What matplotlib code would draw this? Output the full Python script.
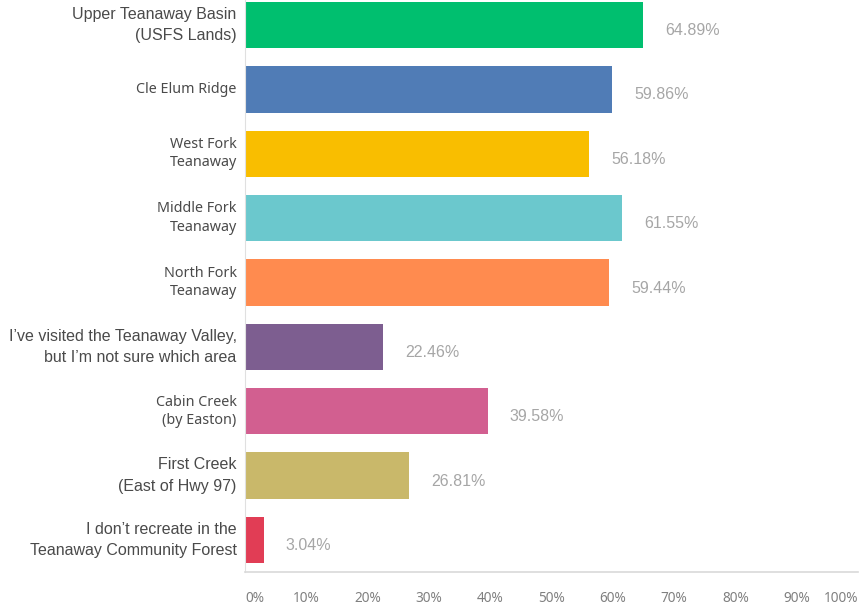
import matplotlib
matplotlib.use("Agg")
import matplotlib.pyplot as plt

categories = [
    "Upper Teanaway Basin\n(USFS Lands)",
    "Cle Elum Ridge",
    "West Fork\nTeanaway",
    "Middle Fork\nTeanaway",
    "North Fork\nTeanaway",
    "I\u2019ve visited the Teanaway Valley,\nbut I\u2019m not sure which area",
    "Cabin Creek\n(by Easton)",
    "First Creek\n(East of Hwy 97)",
    "I don\u2019t recreate in the\nTeanaway Community Forest",
]
values = [64.89, 59.86, 56.18, 61.55, 59.44, 22.46, 39.58, 26.81, 3.04]
tick_values = [0, 10, 20, 30, 40, 50, 60, 70, 80, 90, 100]
tick_labels = ["0%", "10%", "20%", "30%", "40%", "50%", "60%", "70%", "80%", "90%", "100%"]

colors = ["#00BF6F", "#507CB6", "#F9BE00", "#6BC8CD", "#FF8B4F",
          "#7D5E90", "#D25F90", "#C9B86A", "#E13D55"]
label_fonts = ["Liberation Sans", "Noto Sans", "Noto Sans", "Noto Sans", "Noto Sans",
               "Liberation Sans", "Noto Sans", "Liberation Sans", "Liberation Sans"]

fig = plt.figure(figsize=(8.61, 6.06), dpi=100)
ax = fig.add_axes([245 / 861, 1 - 572 / 606, 613 / 861, 572 / 606])

ypos = list(range(len(categories)))
ax.barh(ypos, values, height=0.72, color=colors, zorder=2)

ax.set_xlim(0, 100)
ax.set_ylim(8.497, -0.388)

for y, v in zip(ypos, values):
    ax.annotate(f"{v:.2f}%", xy=(v, y), xytext=(16, -4), textcoords="offset points",
                ha="left", va="center", fontsize=11.5, color="#a6a6a6",
                family="Liberation Sans")

ax.set_yticks(ypos)
ax.set_yticklabels([])
for y, lab, fam in zip(ypos, categories, label_fonts):
    size = 11.5 if fam == "Liberation Sans" else 10.3
    ls = 1.55 if fam == "Liberation Sans" else 1.3
    ax.annotate(lab, xy=(0, y), xytext=(-6, 0), textcoords="offset points",
                ha="right", va="center", fontsize=size, color="#4a4a4a",
                family=fam, linespacing=ls, multialignment="right")

ax.set_xticks(tick_values)
ax.set_xticklabels(tick_labels, fontsize=9.8, color="#808080", family="Noto Sans")
labels = ax.get_xticklabels()
labels[0].set_horizontalalignment("left")
labels[-1].set_horizontalalignment("right")
ax.tick_params(axis="x", length=0, pad=14)
ax.tick_params(axis="y", length=0)

for s in ["top", "right"]:
    ax.spines[s].set_visible(False)
ax.spines["left"].set_color("#e0e0e0")
ax.spines["bottom"].set_color("#d9d9d9")
ax.spines["bottom"].set_linewidth(1.2)

fig.savefig("out.png", dpi=100)
